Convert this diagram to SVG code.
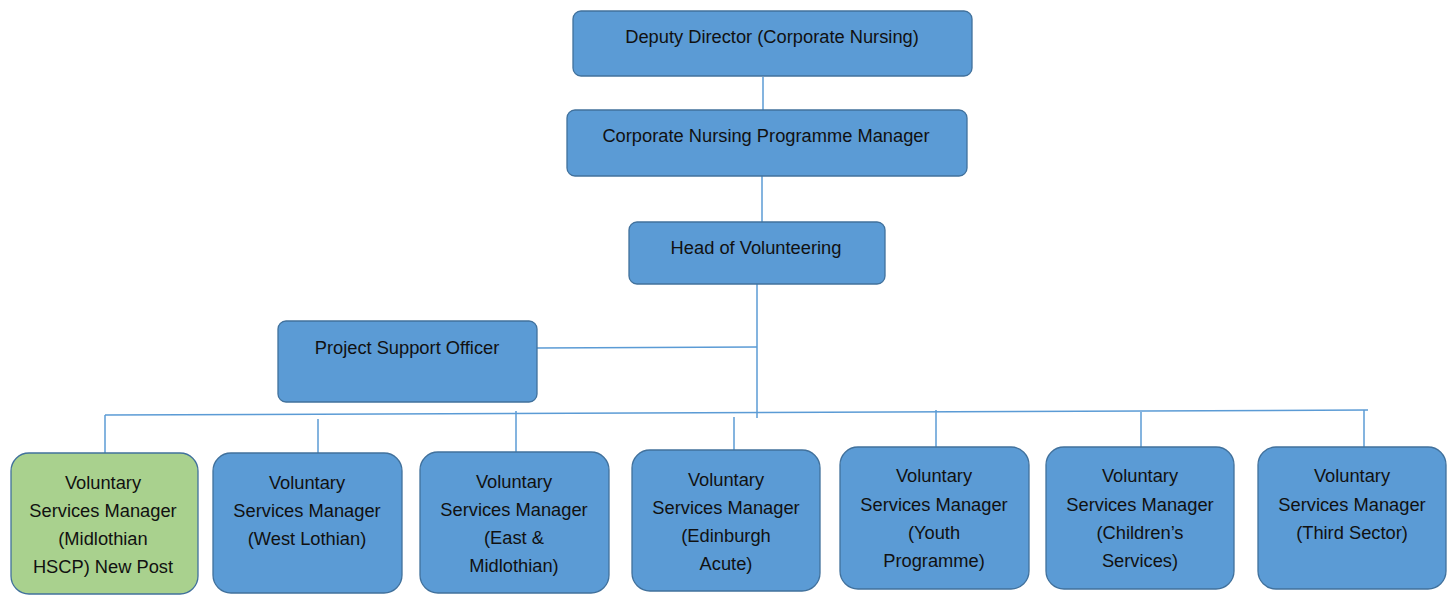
<svg xmlns="http://www.w3.org/2000/svg" width="1453" height="595" viewBox="0 0 1453 595">
  <style>
    .box { fill: #5B9BD5; stroke: #41719C; stroke-width: 1.3; }
    .new { fill: #A9D18E; stroke: #41719C; stroke-width: 1.3; }
    .lbl { font-family: "Liberation Sans", Arial, sans-serif; font-size: 18.3px; fill: #111; text-anchor: middle; }
    .conn { stroke: #5B9BD5; stroke-width: 1.5; fill: none; }
  </style>
  <rect width="1453" height="595" fill="#fff"/>

  <g id="connectors">
    <line class="conn" x1="763" y1="77" x2="763" y2="110"/>
    <line class="conn" x1="762" y1="176" x2="762" y2="222"/>
    <line class="conn" x1="757" y1="284" x2="757" y2="418"/>
    <line class="conn" x1="537" y1="348" x2="757" y2="347"/>
    <line class="conn" x1="105" y1="415" x2="1368" y2="410"/>
    <line class="conn" x1="105" y1="415" x2="105" y2="453"/>
    <line class="conn" x1="318" y1="419" x2="318" y2="453"/>
    <line class="conn" x1="516" y1="411" x2="516" y2="452"/>
    <line class="conn" x1="734" y1="417" x2="734" y2="450"/>
    <line class="conn" x1="936" y1="410" x2="936" y2="447"/>
    <line class="conn" x1="1141" y1="412" x2="1141" y2="447"/>
    <line class="conn" x1="1364" y1="410" x2="1364" y2="447"/>
  </g>

  <g id="deputy-director">
    <rect class="box" x="573" y="11" width="399" height="65" rx="8"/>
    <text class="lbl" x="772" y="43">Deputy Director (Corporate Nursing)</text>
  </g>
  <g id="programme-manager">
    <rect class="box" x="567" y="110" width="400" height="66" rx="8"/>
    <text class="lbl" x="766" y="142">Corporate Nursing Programme Manager</text>
  </g>
  <g id="head-of-volunteering">
    <rect class="box" x="629" y="222" width="256" height="62" rx="8"/>
    <text class="lbl" x="756" y="254">Head of Volunteering</text>
  </g>
  <g id="project-support-officer">
    <rect class="box" x="278" y="321" width="259" height="81" rx="8"/>
    <text class="lbl" x="407" y="354">Project Support Officer</text>
  </g>

  <g id="vsm-midlothian-hscp">
    <rect class="new" x="11" y="453" width="187" height="141" rx="18"/>
    <text class="lbl" x="103" y="489">Voluntary</text>
    <text class="lbl" x="103" y="517">Services Manager</text>
    <text class="lbl" x="103" y="545">(Midlothian</text>
    <text class="lbl" x="103" y="573">HSCP) New Post</text>
  </g>
  <g id="vsm-west-lothian">
    <rect class="box" x="213" y="453" width="189" height="140" rx="18"/>
    <text class="lbl" x="307" y="489">Voluntary</text>
    <text class="lbl" x="307" y="517">Services Manager</text>
    <text class="lbl" x="307" y="545">(West Lothian)</text>
  </g>
  <g id="vsm-east-midlothian">
    <rect class="box" x="420" y="452" width="189" height="141" rx="18"/>
    <text class="lbl" x="514" y="488">Voluntary</text>
    <text class="lbl" x="514" y="516">Services Manager</text>
    <text class="lbl" x="514" y="544">(East &amp;</text>
    <text class="lbl" x="514" y="572">Midlothian)</text>
  </g>
  <g id="vsm-edinburgh-acute">
    <rect class="box" x="632" y="450" width="188" height="141" rx="18"/>
    <text class="lbl" x="726" y="486">Voluntary</text>
    <text class="lbl" x="726" y="514">Services Manager</text>
    <text class="lbl" x="726" y="542">(Edinburgh</text>
    <text class="lbl" x="726" y="570">Acute)</text>
  </g>
  <g id="vsm-youth-programme">
    <rect class="box" x="840" y="447" width="189" height="142" rx="18"/>
    <text class="lbl" x="934" y="482">Voluntary</text>
    <text class="lbl" x="934" y="511">Services Manager</text>
    <text class="lbl" x="934" y="539">(Youth</text>
    <text class="lbl" x="934" y="567">Programme)</text>
  </g>
  <g id="vsm-childrens-services">
    <rect class="box" x="1046" y="447" width="188" height="142" rx="18"/>
    <text class="lbl" x="1140" y="482">Voluntary</text>
    <text class="lbl" x="1140" y="511">Services Manager</text>
    <text class="lbl" x="1140" y="539">(Children’s</text>
    <text class="lbl" x="1140" y="567">Services)</text>
  </g>
  <g id="vsm-third-sector">
    <rect class="box" x="1258" y="447" width="188" height="142" rx="18"/>
    <text class="lbl" x="1352" y="482">Voluntary</text>
    <text class="lbl" x="1352" y="511">Services Manager</text>
    <text class="lbl" x="1352" y="539">(Third Sector)</text>
  </g>
</svg>
